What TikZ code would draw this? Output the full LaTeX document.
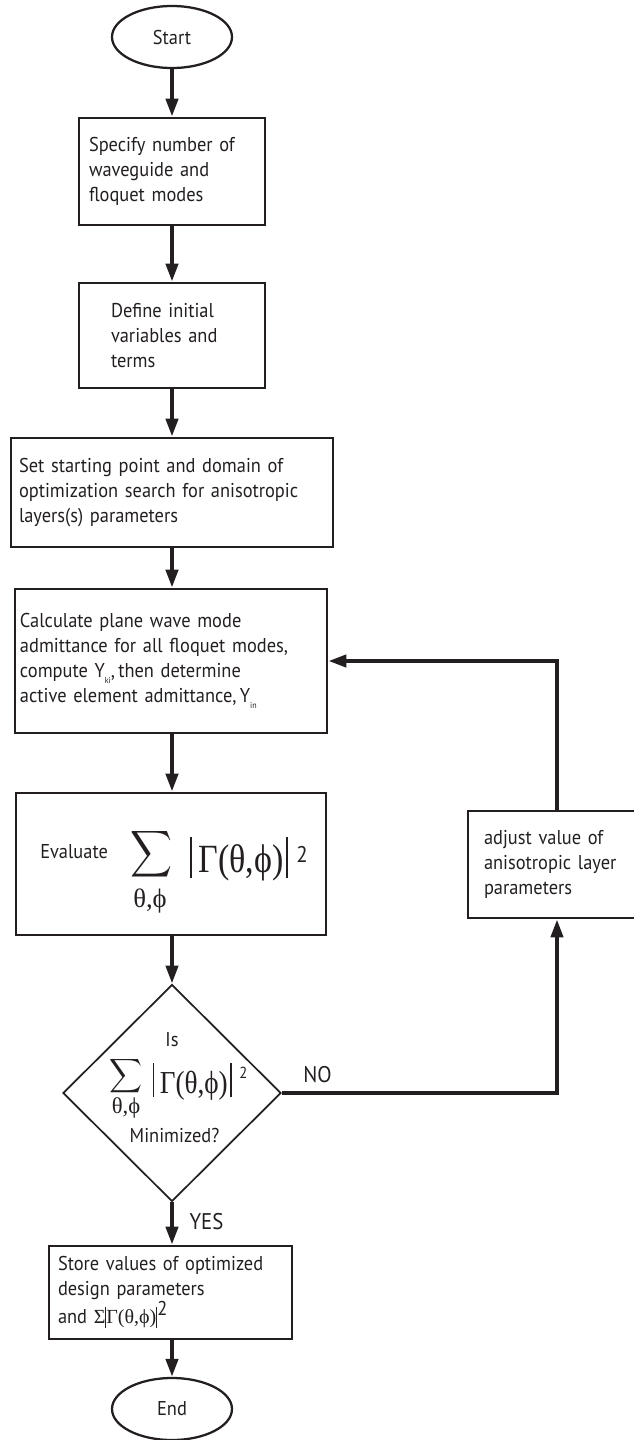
\documentclass[tikz,border=0pt]{standalone}
\usepackage{fontspec}
\usepackage{graphicx}
\usetikzlibrary{arrows.meta,shapes.geometric}
\newfontfamily\bodyfont[FakeStretch=0.92]{PT Sans}
\newfontfamily\grk{Liberation Serif}
\definecolor{ink}{RGB}{35,31,32}
\begin{document}
\begin{tikzpicture}[x=0.75pt,y=-0.75pt,
  txt/.style={font=\bodyfont\fontsize{15pt}{18.75pt}\selectfont, text=ink},
  box/.style={txt, draw=ink, line width=2pt, rectangle, align=left, inner ysep=0pt},
  term/.style={txt, draw=ink, line width=1.7pt, ellipse, minimum width=90pt, minimum height=46.5pt, inner sep=0pt},
  decision/.style={draw=ink, line width=1.3pt, diamond, minimum width=163.5pt, minimum height=162.75pt, inner sep=0pt},
  arr/.style={draw=ink, line width=3pt, -{Triangle[length=13.5pt,width=9pt]}},
  lbl/.style={font=\bodyfont\fontsize{17pt}{20pt}\selectfont, text=ink, inner sep=0pt},
  frm/.style={text=ink, inner sep=0pt}
]
\useasboundingbox (0,0) rectangle (633,1440);

% terminals
\node[term] (start) at (172,37) {Start};
\node[term] (end) at (172,1409) {End};

% process boxes
\node[box, minimum width=139.5pt, minimum height=80.25pt, text width=124.5pt, inner xsep=7.5pt] (b1) at (172,171.5)
  {Specify number of\\waveguide and\\floquet modes};
\node[box, minimum width=139.5pt, minimum height=78.75pt, text width=91.5pt, inner xsep=24pt] (b2) at (172,335.5)
  {Define initial\\variables and\\terms};
\node[box, minimum width=241.5pt, minimum height=81.75pt, text width=229.5pt, inner xsep=6pt] (b3) at (172,492.5)
  {Set starting point and domain of\\optimization search for anisotropic\\layers(s) parameters};
\node[box, minimum width=234pt, minimum height=108pt, text width=226.5pt, inner xsep=3.75pt] (b4) at (171,661)
  {Calculate plane wave mode\\admittance for all floquet modes,\\compute Y\raisebox{-4pt}{\fontsize{6.5pt}{7pt}\selectfont ki},\,then determine\\active element admittance,\,Y\raisebox{-4pt}{\fontsize{6.5pt}{7pt}\selectfont in}};
\node[box, minimum width=232.5pt, minimum height=106.5pt, inner sep=0pt] (b5) at (171,864) {};
\node[box, minimum width=182.25pt, minimum height=69.75pt, text width=168.75pt, inner xsep=6.75pt] (b6) at (170.5,1292.5)
  {Store values of optimized\\design parameters\\and {\grk Σ\rule[-3.5pt]{0.7pt}{16pt}Γ(θ,ϕ)\rule[-3.5pt]{0.7pt}{16pt}}\raisebox{6pt}{2}};
\node[box, minimum width=133.5pt, minimum height=80.25pt, text width=109.5pt, inner xsep=12pt] (adj) at (557,864.5)
  {adjust value of\\anisotropic layer\\parameters};

% decision
\node[decision] (dia) at (172,1093) {};

% formula in evaluate box
\node[txt, anchor=base west, inner sep=0pt] (ev) at (40,858) {Evaluate};
\node[frm] (sum1) at (152,854) {\resizebox*{31.5pt}{39pt}{$\displaystyle\sum$}};
\node[frm, font=\grk\fontsize{20pt}{20pt}\selectfont] (sub1) at (150,901) {θ,ϕ};
\node[frm, anchor=base west] (g1) at (190,872)
  {\rule[-4.5pt]{1.1pt}{30.75pt}\hspace{5pt}\scalebox{0.85}[1]{\grk\fontsize{30pt}{30pt}\selectfont Γ(θ,ϕ)}\hspace{2pt}\rule[-4.5pt]{1.1pt}{30.75pt}};
\node[frm, font=\bodyfont\fontsize{17pt}{17pt}\selectfont] (p1) at (302,854) {2};

% formula in decision
\node[txt, inner sep=0pt] (is) at (172,1040) {Is};
\node[frm] (sum2) at (125.5,1076) {\resizebox*{24.75pt}{28.5pt}{$\displaystyle\sum$}};
\node[frm, font=\grk\fontsize{17pt}{17pt}\selectfont] (sub2) at (126,1108) {θ,ϕ};
\node[frm, anchor=base west] (g2) at (153,1093)
  {\rule[-3pt]{0.9pt}{25.5pt}\hspace{4pt}\scalebox{0.85}[1]{\grk\fontsize{24pt}{24pt}\selectfont Γ(θ,ϕ)}\hspace{2pt}\rule[-3pt]{0.9pt}{25.5pt}};
\node[frm, font=\bodyfont\fontsize{12pt}{12pt}\selectfont] (p2) at (243.5,1073) {2};
\node[txt, inner sep=0pt] (mini) at (174.5,1135) {Minimized?};

% connectors
\draw[arr] (start.south) -- (b1.north);
\draw[arr] (b1.south) -- (b2.north);
\draw[arr] (b2.south) -- (b3.north);
\draw[arr] (b3.south) -- (b4.north -| start.south);
\draw[arr] (b4.south -| start.south) -- (b5.north -| start.south);
\draw[arr] (b5.south -| start.south) -- (dia.north);
\draw[arr] (dia.south) -- (b6.north -| start.south);
\draw[arr] (b6.south -| start.south) -- (end.north);
\draw[arr] (dia.east) -| (adj.south);
\draw[arr] (adj.north) |- (b4.east);

\node[lbl] (no) at (317.5,1075) {NO};
\node[lbl] (yes) at (206.5,1222) {YES};
\end{tikzpicture}
\end{document}
